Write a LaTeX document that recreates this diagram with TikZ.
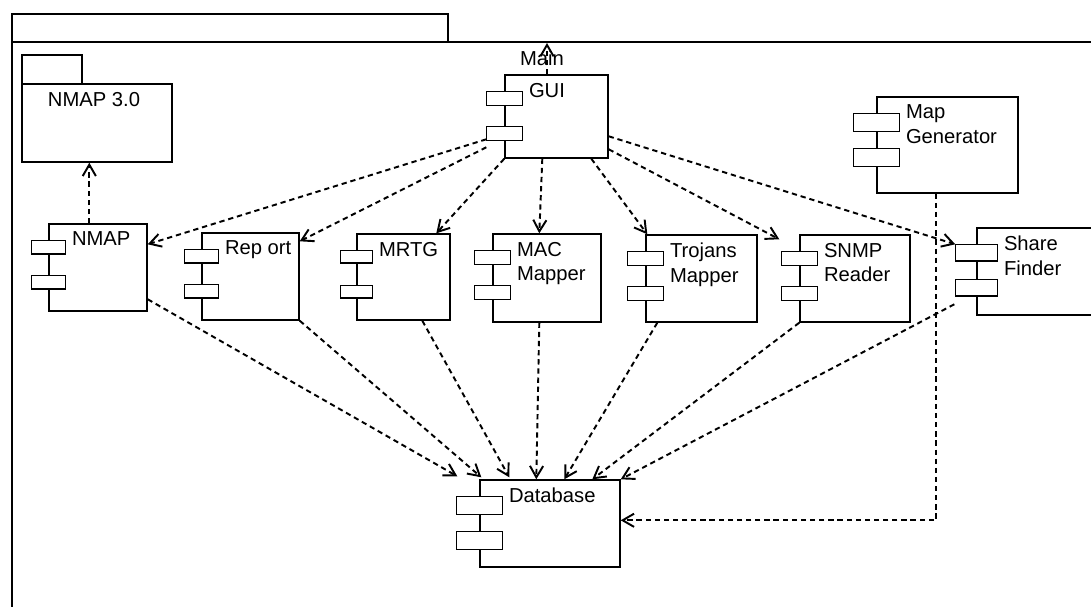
\documentclass[tikz,border=0pt]{standalone}
\usepackage{fontspec}
\setmainfont{Liberation Sans}
\usetikzlibrary{arrows.meta,fit,calc}

% component box: name, top left, bottom right, text, plug half width
\newcommand{\umlcomp}[5]{%
  \node[box, fit={#2 #3}] (#1) {};
  \node[txt] at ([shift={(#5+6,8)}]#1.north west) {#4};
  \draw[plug] ([shift={(-#5,17)}]#1.north west) rectangle ++(2*#5,0.8*#5);
  \draw[plug] ([shift={(-#5,52)}]#1.north west) rectangle ++(2*#5,0.8*#5);
}

\begin{document}
\begin{tikzpicture}[
    x=0.02cm, y=-0.02cm, line width=0.8pt,
    box/.style={draw, rectangle, inner sep=0pt},
    txt/.style={anchor=north west, inner sep=0pt, align=left, font=\fontsize{11.5}{14}\selectfont},
    plug/.style={draw, fill=white},
    dep/.style={-{Straight Barb[length=6.5pt,width=7.5pt]}, dash pattern=on 3pt off 2.2pt, line width=1.1pt}
]
\useasboundingbox (0,0) rectangle (1091,607);
\clip (0,0) rectangle (1091,607);

% Package frame
\draw (12,14) rectangle (448,42);
\draw (12,42) rectangle (1110,640);

% NMAP 3.0 package
\draw (22,55) rectangle (82,84);
\node[box, fit={(22,84) (172,162)}] (PKG) {};
\node[txt, anchor=north] at ([shift={(-3,8)}]PKG.north) {NMAP 3.0};

% Components
\umlcomp{GUI}{(505,75)}{(608,158)}{GUI}{18}
\umlcomp{NMAP}{(49,224)}{(147,311)}{NMAP}{17}
\umlcomp{REP}{(202,233)}{(299,320)}{Rep ort}{17}
\umlcomp{MRTG}{(357,234)}{(450,320)}{MRTG}{16}
\umlcomp{MAC}{(493,234)}{(601,322)}{MAC\\Mapper}{18}
\umlcomp{TRO}{(646,235)}{(757,322)}{Trojans\\Mapper}{18}
\umlcomp{SNMP}{(800,235)}{(910,322)}{SNMP\\Reader}{18}
\umlcomp{SF}{(977,228)}{(1100,315)}{Share\\Finder}{21}
\umlcomp{MG}{(877,97)}{(1018,193)}{Map\\Generator}{23}
\umlcomp{DB}{(480,480)}{(620,567)}{Database}{23}

% Main
\node[txt, anchor=center] (MAIN) at (542,58) {Main};
\coordinate (MT) at (547,43);
\draw[dep] (GUI.north -| MT) -- (MT);

% GUI dependencies
\draw[dep] ([shift={(-18,65)}]GUI.north west) -- ([shift={(0,21)}]NMAP.north east);
\draw[dep] ([shift={(-18,73)}]GUI.north west) -- ([shift={(0,9)}]REP.north east);
\draw[dep] (GUI.south west) -- ([shift={(80,0)}]MRTG.north west);
\draw[dep] ([shift={(38,0)}]GUI.south west) -- ([shift={(47,0)}]MAC.north west);
\draw[dep] ([shift={(87,0)}]GUI.south west) -- ([shift={(2,0)}]TRO.north west);
\draw[dep] ([shift={(0,75)}]GUI.north east) -- ([shift={(-20,5)}]SNMP.north west);
\draw[dep] ([shift={(0,62)}]GUI.north east) -- ([shift={(-21,17)}]SF.north west);
\draw[dep] ([shift={(41,0)}]NMAP.north west) -- ([shift={(68,0)}]PKG.south west);

% Database dependencies
\draw[dep] ([shift={(0,76)}]NMAP.north east) -- ([shift={(-22,-3)}]DB.north west);
\draw[dep] (REP.south east) -- ([shift={(2,-2)}]DB.north west);
\draw[dep] ([shift={(66,0)}]MRTG.south west) -- ([shift={(30,-2)}]DB.north west);
\draw[dep] ([shift={(47,0)}]MAC.south west) -- ([shift={(57,0)}]DB.north west);
\draw[dep] ([shift={(12,0)}]TRO.south west) -- ([shift={(85,0)}]DB.north west);
\draw[dep] (SNMP.south west) -- ([shift={(113,0)}]DB.north west);
\draw[dep] ([shift={(-22,77)}]SF.north west) -- (DB.north east);
\draw[dep] ([shift={(60,0)}]MG.south west) |- ([shift={(0,41)}]DB.north east);

\end{tikzpicture}
\end{document}
